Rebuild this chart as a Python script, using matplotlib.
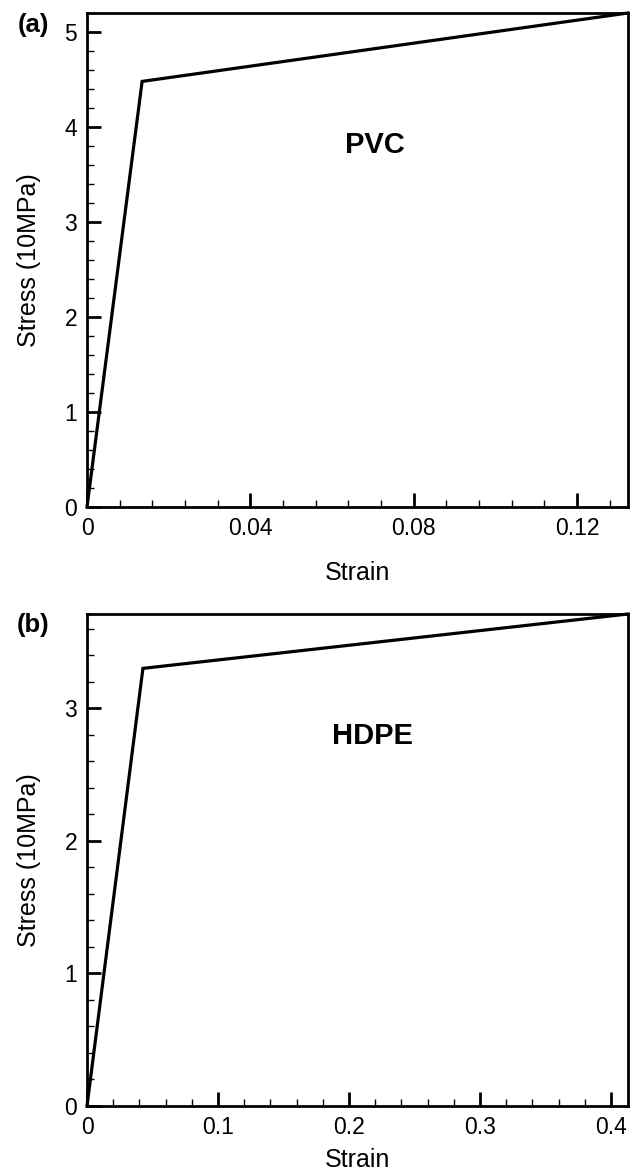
import numpy as np
import matplotlib.pyplot as plt
from matplotlib.ticker import MultipleLocator, FixedLocator

plt.rcParams['font.family'] = ['Liberation Sans', 'DejaVu Sans']

# stress-strain data (bilinear), stress in 10 MPa
pvc_strain = [0.0, 0.0135, 0.1325]
pvc_stress = [0.0, 4.48, 5.2]
hdpe_strain = [0.0, 0.0427, 0.413]
hdpe_stress = [0.0, 3.30, 3.71]

pvc_xticks = [0, 0.04, 0.08, 0.12]
pvc_xlabels = ["0", "0.04", "0.08", "0.12"]
hdpe_xticks = [0, 0.1, 0.2, 0.3, 0.4]
hdpe_xlabels = ["0", "0.1", "0.2", "0.3", "0.4"]

fig = plt.figure(figsize=(6.33, 11.74), dpi=100)
W, H = 633, 1174

def make_ax(box, xs, ys, xlim, ylim, xticks, xlabels, xminor, yticks, material, tag, mat_xy, tag_y, label_y):
    l, t, r, b = box
    ax = fig.add_axes([l / W, 1 - b / H, (r - l) / W, (b - t) / H])
    ax.plot(xs, ys, color='black', lw=2.3, clip_on=False, solid_joinstyle='miter')
    ax.set_xlim(*xlim)
    ax.set_ylim(*ylim)
    ax.xaxis.set_major_locator(FixedLocator(xticks))
    ax.set_xticklabels(xlabels)
    ax.xaxis.set_minor_locator(MultipleLocator(xminor))
    ax.yaxis.set_major_locator(FixedLocator(yticks))
    ax.set_yticklabels([str(v) for v in yticks])
    ax.yaxis.set_minor_locator(MultipleLocator(0.2))
    ax.tick_params(which='both', direction='in', top=False, right=False, labelsize=16.5)
    ax.tick_params(which='major', length=10, width=2, pad=7)
    ax.tick_params(which='minor', length=5, width=1)
    for s in ax.spines.values():
        s.set_linewidth(2)
    # axis titles placed in figure pixels
    fig.text((l + r) / 2 / W, 1 - label_y / H, "Strain", fontsize=18,
             ha='center', va='baseline')
    fig.text(29 / W, 1 - (t + b) / 2 / H, "Stress (10MPa)", fontsize=18,
             rotation=90, ha='center', va='center')
    fig.text(mat_xy[0] / W, 1 - mat_xy[1] / H, material, fontsize=21,
             fontweight='bold', ha='center', va='center')
    fig.text(33 / W, 1 - tag_y / H, tag, fontsize=18.5, fontweight='bold',
             ha='center', va='center')
    return ax

make_ax((87, 13, 628, 507), pvc_strain, pvc_stress, (0, 0.1325), (0, 5.2),
        pvc_xticks, pvc_xlabels, 0.008, [0, 1, 2, 3, 4, 5], "PVC", "(a)",
        (375, 145), 25, 580)
make_ax((87, 614, 628, 1106), hdpe_strain, hdpe_stress, (0, 0.413), (0, 3.71),
        hdpe_xticks, hdpe_xlabels, 0.02, [0, 1, 2, 3], "HDPE", "(b)",
        (373, 736), 625, 1167)

plt.savefig("out.png", dpi=100)
